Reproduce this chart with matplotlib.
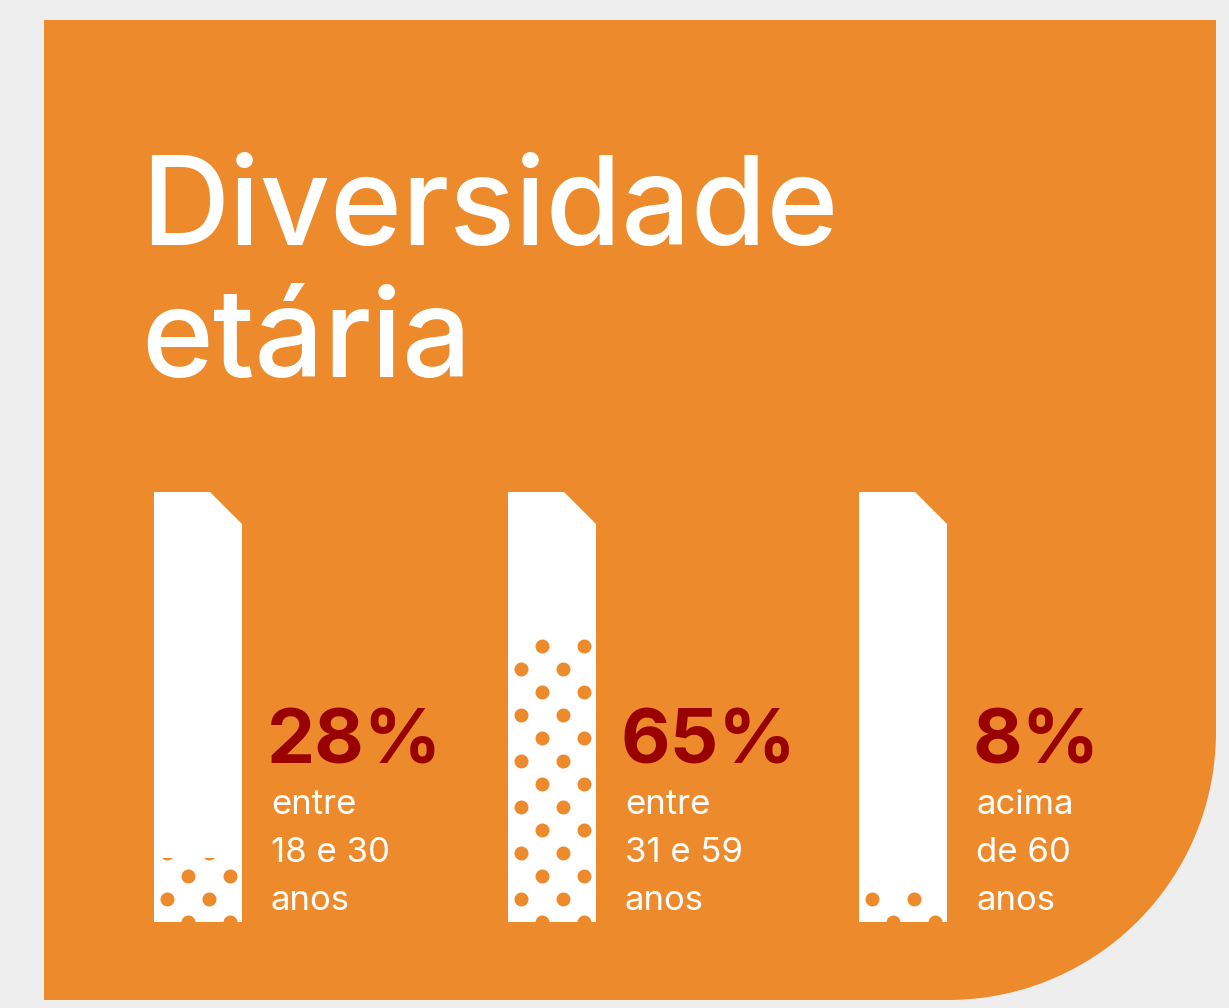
"""
Diversidade etaria - infographic recreation
"""

###############
#%% IMPORTS ###
import numpy as np
import matplotlib as mpl
mpl.use('Agg')
import matplotlib.pyplot as plt
from matplotlib.path import Path
from matplotlib.patches import PathPatch, Polygon, Rectangle

##############
#%% INPUTS ###
### Data
title_lines = ['Diversidade', 'etária']
share_labels = ['28%', '65%', '8%']
shares = [28, 65, 8]
### Height of the dotted fill as drawn in the bars [% of bar height]
fill_levels = [15, 66, 8]
age_groups = [
    ['entre', '18 e 30', 'anos'],
    ['entre', '31 e 59', 'anos'],
    ['acima', 'de 60', 'anos'],
]

### Colors
bgcolor = '#eeeeee'
orange = '#ed8b2c'
darkred = '#990000'
white = '#ffffff'

### Layout [pixels]
W, H = 1229, 1008
panel = dict(left=44, right=1216, top=20, bottom=1000, radius=268)
bar_lefts = [154, 508, 859]
bar_width = 88
bar_top, bar_bottom = 492, 922
chamfer = 32
dot_dx, dot_dy, dot_r = 42, 23, 7

fontname = 'Inter'

#################
#%% PROCEDURE ###
fig = plt.figure(figsize=(W/100, H/100), dpi=100)
fig.patch.set_facecolor(bgcolor)

### Main axes in pixel coordinates
ax = fig.add_axes([0, 0, 1, 1])
ax.set_xlim(0, W)
ax.set_ylim(H, 0)
ax.axis('off')

#%% Orange panel with rounded bottom-right corner
p = panel
theta = np.linspace(0, np.pi/2, 60)
cx, cy = p['right'] - p['radius'], p['bottom'] - p['radius']
arc = np.column_stack([cx + p['radius']*np.cos(theta), cy + p['radius']*np.sin(theta)])
verts = np.vstack([
    [[p['left'], p['top']], [p['right'], p['top']]],
    arc,
    [[p['left'], p['bottom']], [p['left'], p['top']]],
])
ax.add_patch(PathPatch(Path(verts, closed=True), facecolor=orange, edgecolor='none'))

#%% Title
for i, line in enumerate(title_lines):
    ax.text(141, 245 + i*132, line, color=white, fontsize=88, family=fontname,
            fontweight='medium', ha='left', va='baseline')

#%% Bars (y axis in % of bar height)
axb = fig.add_axes([0, (H-bar_bottom)/H, 1, (bar_bottom-bar_top)/H])
axb.set_xlim(0, W)
axb.set_ylim(0, 100)
axb.axis('off')
axb.patch.set_alpha(0)
px_per_pct = (bar_bottom - bar_top)/100
chamfer_pct = chamfer/px_per_pct

for i, left in enumerate(bar_lefts):
    right = left + bar_width
    shape = Polygon(
        [(left, 0), (left, 100), (right-chamfer, 100), (right, 100-chamfer_pct), (right, 0)],
        closed=True, facecolor=white, edgecolor='none')
    axb.add_patch(shape)

    ### Staggered dot pattern, clipped to the filled part of the bar
    nrows = int(fill_levels[i]*px_per_pct/dot_dy) + 2
    xs, ys = [], []
    for r in range(nrows):
        base = 34 if r % 2 == 0 else 13
        for k in range(-1, 3):
            xs.append(left + base + k*dot_dx)
            ys.append(r*dot_dy/px_per_pct)
    clip = Rectangle((left, 0), bar_width, fill_levels[i], transform=axb.transData)
    sc = axb.scatter(xs, ys, s=(2*dot_r*72/100)**2, color=orange, lw=0, zorder=3)
    sc.set_clip_path(clip)

    ### Labels
    tx = right + 26
    ax.text(tx - 1, 764, share_labels[i], color=darkred, fontsize=55, fontweight='bold',
            family=fontname, ha='left', va='baseline')
    for j, line in enumerate(age_groups[i]):
        ax.text(tx + 3, 814 + j*48, line, color=white, fontsize=25, family=fontname,
                ha='left', va='baseline')

fig.savefig('out.png', dpi=100, facecolor=bgcolor)
